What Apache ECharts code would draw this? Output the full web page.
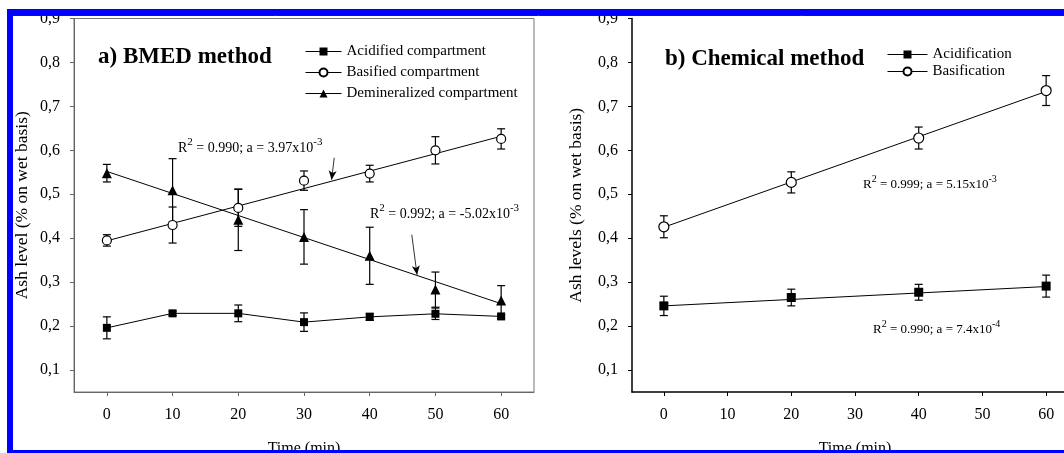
<!DOCTYPE html>
<html>
<head>
<meta charset="utf-8">
<script src="https://cdn.jsdelivr.net/npm/echarts@6/dist/echarts.min.js"></script>
<style>
  html, body { margin: 0; padding: 0; background: #fff; }
  #main { width: 1064px; height: 453px; }
</style>
</head>
<body>
<div id="main"></div>
<script>
// panel a) BMED method
var timesA = [0, 10, 20, 30, 40, 50, 60];
var acidified = [0.196, 0.229, 0.229, 0.209, 0.221, 0.228, 0.222];
var acidifiedErr = [0.025, 0.005, 0.019, 0.021, 0.008, 0.013, 0.005];
var basified = [0.395, 0.430, 0.469, 0.531, 0.547, 0.600, 0.626];
var basifiedErr = [0.013, 0.041, 0.042, 0.022, 0.019, 0.031, 0.023];
var demin = [0.548, 0.509, 0.442, 0.403, 0.360, 0.283, 0.258];
var deminErr = [0.020, 0.072, 0.070, 0.062, 0.065, 0.040, 0.034];

// panel b) Chemical method
var timesB = [0, 20, 40, 60];
var acidification = [0.246, 0.265, 0.277, 0.291];
var acidificationErr = [0.022, 0.019, 0.018, 0.025];
var basification = [0.426, 0.527, 0.628, 0.736];
var basificationErr = [0.025, 0.024, 0.025, 0.034];

// regression lines (ends at 0 and 60 min)
var fitX = [0, 60];
var basifiedFit = [0.394, 0.632];
var deminFit = [0.552, 0.251];
var acidificationFit = [0.246, 0.290];
var basificationFit = [0.425, 0.734];

var xTicks = [0, 10, 20, 30, 40, 50, 60];
var yTicks = [0.1, 0.2, 0.3, 0.4, 0.5, 0.6, 0.7, 0.8, 0.9];

// arrows pointing at the fit lines (data coords)
var arrowBas = [[34.6, 0.583], [34.2, 0.533]];
var arrowDemin = [[46.4, 0.408], [47.2, 0.317]];

var serif = 'Liberation Serif';

function pairs(xs, ys) {
  return xs.map(function (x, i) { return [x, ys[i]]; });
}
function triples(xs, ys, es) {
  return xs.map(function (x, i) { return [x, ys[i], es[i]]; });
}

function errorBars(xs, ys, es, idx) {
  return {
    type: 'custom',
    xAxisIndex: idx, yAxisIndex: idx,
    z: 1,
    silent: true,
    data: triples(xs, ys, es),
    encode: { x: 0, y: 1 },
    renderItem: function (params, api) {
      var x = api.value(0), y = api.value(1), e = api.value(2);
      var hi = api.coord([x, y + e]);
      var lo = api.coord([x, y - e]);
      var w = 4;
      var st = { stroke: '#000', lineWidth: 1.2 };
      return {
        type: 'group',
        children: [
          { type: 'line', shape: { x1: hi[0], y1: hi[1], x2: lo[0], y2: lo[1] }, style: st },
          { type: 'line', shape: { x1: hi[0] - w, y1: hi[1], x2: hi[0] + w, y2: hi[1] }, style: st },
          { type: 'line', shape: { x1: lo[0] - w, y1: lo[1], x2: lo[0] + w, y2: lo[1] }, style: st }
        ]
      };
    }
  };
}

function points(name, xs, ys, idx, symbol, size, hollow, connect) {
  return {
    name: name,
    type: 'line',
    xAxisIndex: idx, yAxisIndex: idx,
    z: 3,
    data: pairs(xs, ys),
    symbol: symbol,
    symbolSize: size,
    showAllSymbol: true,
    itemStyle: { color: hollow ? '#fff' : '#000', borderColor: '#000', borderWidth: hollow ? 1.2 : 0 },
    lineStyle: { color: '#000', width: 1, opacity: connect ? 1 : 0 }
  };
}

function fitLine(ys, idx, arrow) {
  var s = {
    type: 'line',
    xAxisIndex: idx, yAxisIndex: idx,
    z: 2,
    silent: true,
    data: pairs(fitX, ys),
    symbol: 'none',
    lineStyle: { color: '#000', width: 1 }
  };
  if (arrow) {
    s.markLine = {
      silent: true,
      symbol: ['none', 'arrow'],
      symbolSize: [6, 9],
      label: { show: false },
      lineStyle: { color: '#000', width: 0.8, type: 'solid' },
      data: [[{ coord: arrow[0] }, { coord: arrow[1] }]]
    };
  }
  return s;
}

function xAxisFor(idx, frameColor) {
  return {
    type: 'value', gridIndex: idx, min: -5, max: 65,
    name: 'Time (min)', nameLocation: 'middle', nameGap: 49,
    nameTextStyle: { fontFamily: serif, fontSize: 16, color: '#000' },
    axisLine: { onZero: false, lineStyle: { color: frameColor, width: idx ? 1.5 : 1 } },
    axisTick: { show: true, length: 4, customValues: xTicks, lineStyle: { color: frameColor } },
    axisLabel: { customValues: xTicks, margin: 15, fontFamily: serif, fontSize: 16, color: '#000' },
    splitLine: { show: false }
  };
}

function yAxisFor(idx, name, gap, frameColor) {
  return {
    type: 'value', gridIndex: idx, min: 0.05, max: 0.9,
    name: name, nameLocation: 'middle', nameRotate: 90, nameGap: gap,
    nameTextStyle: { fontFamily: serif, fontSize: 17.5, color: '#000' },
    axisLine: { onZero: false, lineStyle: { color: frameColor, width: idx ? 1.5 : 1 } },
    axisTick: { show: true, length: 4, customValues: yTicks, lineStyle: { color: frameColor } },
    axisLabel: {
      customValues: yTicks, margin: 14, fontFamily: serif, fontSize: 16, color: '#000',
      formatter: function (v) { return v.toFixed(1).replace('.', ','); }
    },
    splitLine: { show: false }
  };
}

function annot(x, y, r2, a, exp, size) {
  return {
    type: 'text', left: x, top: y, z: 50,
    style: {
      text: '{n|R}{s|2}{n| = ' + r2 + '; a = ' + a + 'x10}{s|' + exp + '}',
      rich: {
        n: { fontFamily: serif, fontSize: size, lineHeight: size + 4, fill: '#000', verticalAlign: 'bottom' },
        s: { fontFamily: serif, fontSize: size - 3, lineHeight: size + 4, fill: '#000', verticalAlign: 'top' }
      }
    }
  };
}

var chart = echarts.init(document.getElementById('main'), null, { renderer: 'canvas' });

var option = {
  animation: false,
  backgroundColor: '#fff',
  title: [
    { text: 'a) BMED method', left: 93, top: 41, textStyle: { fontFamily: serif, fontSize: 23, fontWeight: 'bold', color: '#000' } },
    { text: 'b) Chemical method', left: 660, top: 43, textStyle: { fontFamily: serif, fontSize: 23, fontWeight: 'bold', color: '#000' } }
  ],
  legend: [
    {
      left: 300, top: 39, orient: 'vertical', itemGap: 6, itemWidth: 36, itemHeight: 10, itemTextGap: 9,
      textStyle: { fontFamily: serif, fontSize: 15, color: '#000' },
      data: [
        { name: 'Acidified compartment', lineStyle: { opacity: 1, color: '#000', width: 1 } },
        { name: 'Basified compartment', lineStyle: { opacity: 1, color: '#000', width: 1 } },
        { name: 'Demineralized compartment', lineStyle: { opacity: 1, color: '#000', width: 1 } }
      ]
    },
    {
      left: 882, top: 42, orient: 'vertical', itemGap: 2, itemWidth: 40, itemHeight: 10, itemTextGap: 14,
      textStyle: { fontFamily: serif, fontSize: 15, color: '#000' },
      data: [
        { name: 'Acidification', lineStyle: { opacity: 1, color: '#000', width: 1 } },
        { name: 'Basification', lineStyle: { opacity: 1, color: '#000', width: 1 } }
      ]
    }
  ],
  grid: [
    { left: 74, top: 18.5, width: 460, bottom: 61, outerBoundsMode: 'none', containLabel: false, show: true, borderColor: '#777', borderWidth: 1, backgroundColor: 'transparent' },
    { left: 632, top: 18.5, right: -14, bottom: 61, outerBoundsMode: 'none', containLabel: false }
  ],
  xAxis: [xAxisFor(0, '#666'), xAxisFor(1, '#000')],
  yAxis: [
    yAxisFor(0, 'Ash level (% on wet basis)', 43, '#666'),
    yAxisFor(1, 'Ash levels (% on wet basis)', 47, '#000')
  ],
  series: [
    errorBars(timesA, acidified, acidifiedErr, 0),
    errorBars(timesA, basified, basifiedErr, 0),
    errorBars(timesA, demin, deminErr, 0),
    points('Acidified compartment', timesA, acidified, 0, 'rect', 8, false, true),
    points('Basified compartment', timesA, basified, 0, 'circle', 9, true, false),
    points('Demineralized compartment', timesA, demin, 0, 'triangle', 10, false, false),
    fitLine(basifiedFit, 0, arrowBas),
    fitLine(deminFit, 0, arrowDemin),

    errorBars(timesB, acidification, acidificationErr, 1),
    errorBars(timesB, basification, basificationErr, 1),
    points('Acidification', timesB, acidification, 1, 'rect', 9, false, false),
    points('Basification', timesB, basification, 1, 'circle', 10, true, false),
    fitLine(acidificationFit, 1, null),
    fitLine(basificationFit, 1, null)
  ],
  graphic: [
    annot(178, 137, '0.990', '3.97', '-3', 14),
    annot(370, 203, '0.992', '-5.02', '-3', 14),
    annot(863, 174, '0.999', '5.15', '-3', 13),
    annot(873, 319, '0.990', '7.4', '-4', 13),
    // blue frame of the figure
    { type: 'rect', z: 100, shape: { x: 7, y: 9, width: 1057, height: 6 }, style: { fill: '#0000ff' } },
    { type: 'rect', z: 100, shape: { x: 7, y: 9, width: 6, height: 444 }, style: { fill: '#0000ff' } },
    { type: 'rect', z: 100, shape: { x: 7, y: 450, width: 1057, height: 3 }, style: { fill: '#0000ff' } },
    { type: 'line', z: 100, shape: { x1: 13, y1: 15.5, x2: 1064, y2: 15.5 }, style: { stroke: '#222', lineWidth: 1 } }
  ]
};

chart.setOption(option);
</script>
</body>
</html>
